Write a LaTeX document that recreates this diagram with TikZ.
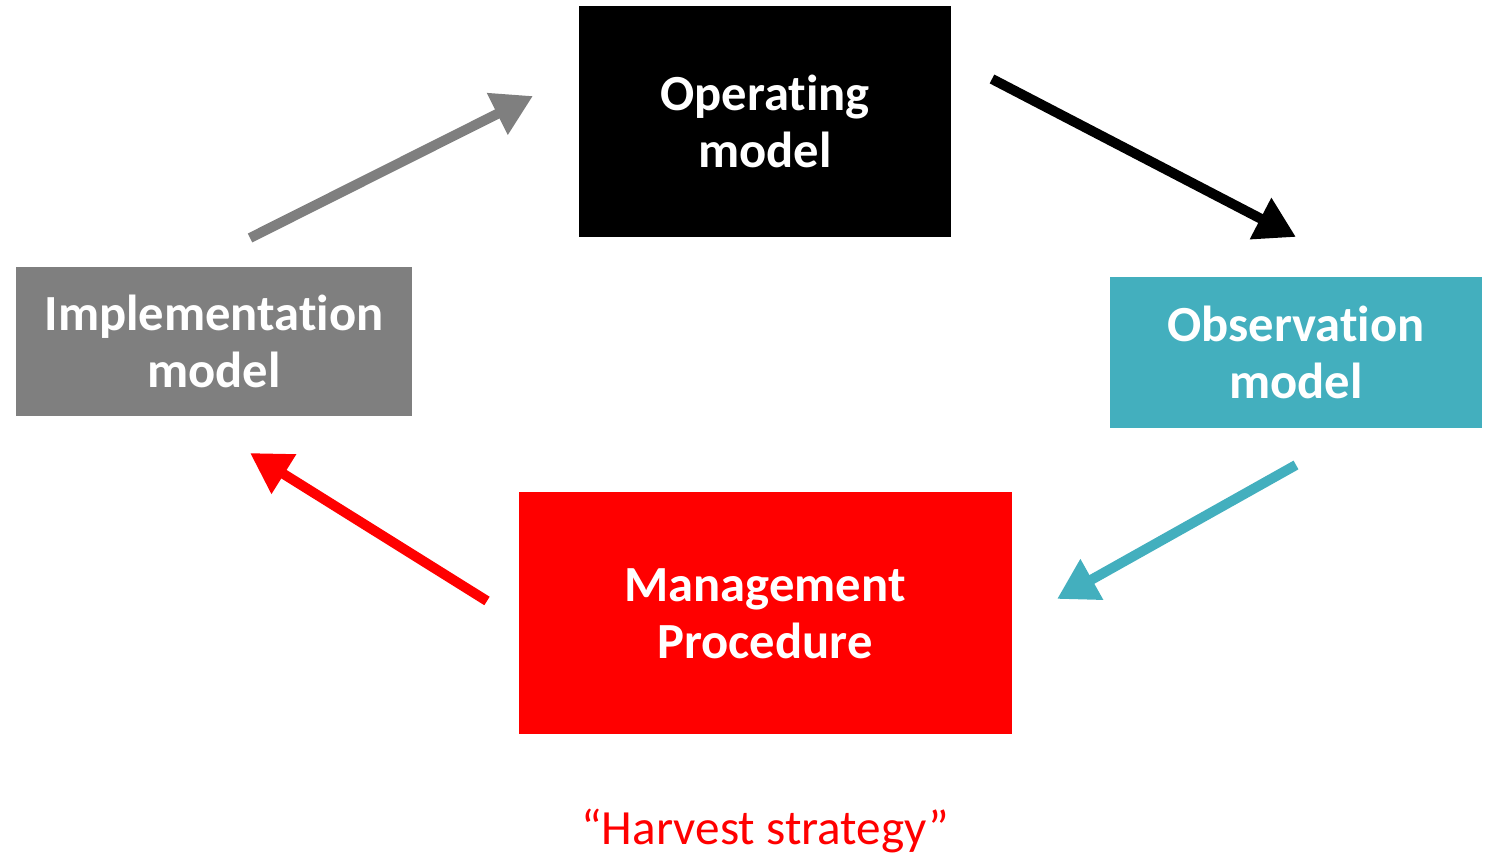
\documentclass[tikz,border=0pt]{standalone}
\usepackage{fontspec}
\setmainfont{Carlito}[Ligatures={NoCommon}]
\usetikzlibrary{positioning}
\usetikzlibrary{arrows.meta}
\definecolor{obsteal}{HTML}{43AFBE}
\definecolor{implgray}{HTML}{7F7F7F}
\definecolor{mpred}{HTML}{FF0000}
\newcommand{\boxfont}{\fontsize{14.4}{16.2}\selectfont\bfseries}
\tikzstyle{model} = [text=white, align=center, font=\boxfont, inner sep=0pt]
\tikzstyle{flow} = [line width=1mm, -{Triangle[length=4mm, width=4.4mm]}]

\begin{document}
\begin{tikzpicture}

		\useasboundingbox (0,0) rectangle (14.86,8.58);

		\node (op_model) [model, fill=black, minimum width=3.72cm, minimum height=2.31cm] at (7.65,7.365) {Operating\\model};

		\node (mp_box) [model, fill=mpred, minimum width=4.93cm, minimum height=2.42cm, below=2.54cm of op_model] {Management\\Procedure};

		\node (obs_model) [model, fill=obsteal, minimum width=3.72cm, minimum height=1.51cm] at (12.96,5.055) {Observation\\model};

		\node (impl_model) [model, fill=implgray, minimum width=3.96cm, minimum height=1.49cm] at (2.14,5.165) {Implementation\\model};

		\node (harvest) [text=mpred, font=\fontsize{14}{17}\selectfont, anchor=base] at (7.65,0.13) {``Harvest strategy''};

		% arrow ends
		\coordinate (impl_out) at (2.50,6.20);
		\coordinate (op_in) at (5.33,7.62);
		\coordinate (op_out) at (9.92,7.79);
		\coordinate (obs_in) at (12.96,6.21);
		\coordinate (obs_out) at (12.96,3.93);
		\coordinate (mp_in) at (10.57,2.59);
		\coordinate (mp_out) at (4.87,2.57);
		\coordinate (impl_in) at (2.50,4.05);

		\draw [flow, implgray] (impl_out) -- (op_in);
		\draw [flow, black] (op_out) -- (obs_in);
		\draw [flow, obsteal] (obs_out) -- (mp_in);
		\draw [flow, mpred] (mp_out) -- (impl_in);

	\end{tikzpicture}
\end{document}
